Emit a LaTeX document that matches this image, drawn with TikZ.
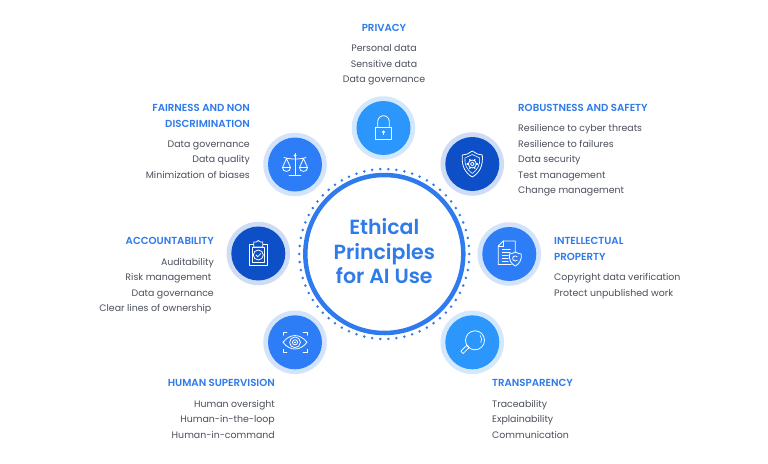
\documentclass[tikz,border=0pt]{standalone}
\usepackage{fontspec}
\setmainfont{Poppins}
\newfontfamily\semifont{Poppins SemiBold}
\definecolor{head}{HTML}{2F7BEA}
\definecolor{body}{HTML}{4A4F5C}
\definecolor{ringc}{HTML}{2F7BEE}
\definecolor{cA}{HTML}{2B96FB}
\definecolor{cB}{HTML}{0C4FC6}
\definecolor{cC}{HTML}{2D7DF6}
\definecolor{hA}{HTML}{D3E8FC}
\definecolor{hB}{HTML}{CEDCF5}
\definecolor{hC}{HTML}{D3E3FB}
\tikzset{
 x=1pt,y=-1pt,
 halo/.style={circle,minimum size=63.5pt,inner sep=0pt,line width=0pt,fill=#1},
 disc/.style={circle,minimum size=54pt,inner sep=0pt,line width=0pt,fill=#1},
 ttl/.style={font=\fontsize{10.2}{12}\semifont,text=head,inner sep=0pt,text height=7pt,text depth=2pt},
 itm/.style={font=\fontsize{9.4}{11}\selectfont,text=body,inner sep=0pt,text height=7pt,text depth=2pt},
 ico/.style={draw=white,line width=0.8pt,line join=round,line cap=round},
 centertext/.style={font=\fontsize{20.5}{24.5}\semifont,text=head,align=center,inner sep=0pt},
}
\begin{document}
\begin{tikzpicture}
\useasboundingbox (0,0) rectangle (768,463);
\fill[white] (0,0) rectangle (768,463);
% centre
\node[circle,draw=ringc,line width=4.5pt,minimum size=158pt,inner sep=0pt] (core) at (384.3,254) {};
\foreach \i in {0,...,65}{\fill[ringc] (384.3,254) ++({\i*5.4545}:85) circle (1.4);}
\node[centertext] (coretext) at (384.3,251.3) {Ethical\\Principles\\for AI Use};
% discs
\foreach \n/\x/\y/\h/\c in {pri/383.5/128/hA/cA,rob/472.3/164/hB/cB,fai/295/164.5/hC/cC,acc/258.3/253.5/hB/cB,ipr/509.3/254/hC/cC,tra/472.3/342.3/hA/cA,hum/295/342.3/hC/cC}{
 \node[halo=\h] (\n h) at (\x,\y) {};
 \node[disc=\c] (\n) at (\x,\y) {};
}
% lock
\begin{scope}[shift={(pri)}]
 \draw[ico] (-8.2,-1) rectangle (8.2,11);
 \draw[ico] (-5.8,-1) -- (-5.8,-6.5) arc (180:360:5.8) -- (5.8,-1);
 \fill[white] (0,4) circle (1.6); \fill[white] (-.6,4) rectangle (.6,7.2);
\end{scope}
% shield gear
\begin{scope}[shift={(rob)}]
 \draw[ico] (0,-13) -- (-5,-10) -- (-10,-9) .. controls (-11,2) and (-7,9) .. (0,13) .. controls (7,9) and (11,2) .. (10,-9) -- (5,-10) -- cycle;
 \draw[ico,line width=.6pt] (0,-9.5) -- (-7.4,-6) .. controls (-8,1) and (-5,6) .. (0,9.5) .. controls (5,6) and (8,1) .. (7.4,-6) -- cycle;
 \draw[ico] (0,0) circle (1.9);
 \draw[ico] (0,0) circle (4);
 \foreach \a in {0,60,...,300}{\draw[ico,line width=1.2pt] (\a:4) -- (\a:5.2);}
\end{scope}
% scales
\begin{scope}[shift={(fai)}]
 \draw[ico] (0,-11) -- (0,10);
 \draw[ico] (-6,10.5) -- (6,10.5);
 \draw[ico] (-11,-7) .. controls (-5,-5) and (5,-5) .. (11,-7);
 \fill[white] (0,-9) circle (1.5);
 \draw[ico] (-8.5,-6) -- (-12.5,3) -- (-4.5,3) -- cycle;
 \draw[ico] (8.5,-6) -- (12.5,3) -- (4.5,3) -- cycle;
 \draw[ico] (-12.5,3) arc (180:0:4);
 \draw[ico] (4.5,3) arc (180:0:4);
\end{scope}
% clipboard
\begin{scope}[shift={(acc)}]
 \draw[ico] (-9,-9) rectangle (9,12);
 \draw[ico,line width=.6pt] (-6,-6) rectangle (6,9);
 \draw[ico,fill=cB] (-4.5,-9) -- (-4.5,-11.5) -- (-2,-11.5) -- (0,-13) -- (2,-11.5) -- (4.5,-11.5) -- (4.5,-6.5) -- (-4.5,-6.5) -- cycle;
 \draw[ico] (0,1.5) circle (5);
 \draw[ico] (-2.3,1.5) -- (-.6,3.2) -- (2.4,.1);
\end{scope}
% document with shield
\begin{scope}[shift={(ipr)}]
 \draw[ico] (2,10.5) -- (-11,10.5) -- (-11,-8) -- (-6,-13) -- (6,-13) -- (6,-2);
 \draw[ico] (-11,-8) -- (-6,-8) -- (-6,-13);
 \foreach \y/\xe in {-5/1,-2/1,1/-1,4/-1,7/-1}{\draw[ico,line width=.7pt] (-7,\y) -- (\xe,\y);}
 \draw[ico] (6,-2) .. controls (8,-.5) and (10,-.5) .. (12,0) .. controls (12.5,6) and (10,10) .. (6,12) .. controls (2,10) and (-.5,6) .. (0,0) .. controls (2,-.5) and (4,-.5) .. (6,-2) -- cycle;
 \draw[ico] (7.9,2.8) arc (-40:-320:2.6);
\end{scope}
% magnifier
\begin{scope}[shift={(tra)}]
 \draw[ico] (2.7,-2) circle (9.5);
 \draw[ico,line width=.6pt] (7.8,-7) arc (-40:30:6.5);
 \draw[ico] (-4,4.8) -- (-5.2,3.5);
 \draw[ico] (-5.5,3) -- (-11.5,8.8) -- (-9.2,11.2) -- (-3.2,5.3) -- cycle;
\end{scope}
% eye
\begin{scope}[shift={(hum)}]
 \draw[ico] (-12,0) .. controls (-5,-9) and (5,-9) .. (12,0) .. controls (5,9) and (-5,9) .. (-12,0) -- cycle;
 \draw[ico] (0,0) circle (5.4);
 \draw[ico] (0,0) circle (2.6);
 \fill[white] (0,0) circle (1);
 \draw[ico] (-12,-7) -- (-12,-10) -- (-8,-10);
 \draw[ico] (12,-7) -- (12,-10) -- (8,-10);
 \draw[ico] (-12,7) -- (-12,10) -- (-8,10);
 \draw[ico] (12,7) -- (12,10) -- (8,10);
\end{scope}
% texts
\begin{scope}[yshift=-0.8pt]
\node[ttl] (t1) at (384,28.5) {PRIVACY};
\node[itm] (t1a) at (384,48.5) {Personal data};
\node[itm] (t1b) at (384,64) {Sensitive data};
\node[itm] (t1c) at (384,79.5) {Data governance};
\node[ttl,anchor=east] (t2) at (250,108.5) {FAIRNESS AND NON};
\node[ttl,anchor=east] (t2x) at (250,124) {DISCRIMINATION};
\node[itm,anchor=east] (t2a) at (250,144) {Data governance};
\node[itm,anchor=east] (t2b) at (250,159.5) {Data quality};
\node[itm,anchor=east] (t2c) at (250,175) {Minimization of biases};
\node[ttl,anchor=east] (t3) at (214,241.5) {ACCOUNTABILITY};
\node[itm,anchor=east] (t3a) at (214,262) {Auditability};
\node[itm,anchor=east] (t3b) at (211.5,277.5) {Risk management};
\node[itm,anchor=east] (t3c) at (214,293) {Data governance};
\node[itm,anchor=east] (t3d) at (211.5,308.5) {Clear lines of ownership};
\node[ttl,anchor=east] (t4) at (275,383.5) {HUMAN SUPERVISION};
\node[itm,anchor=east] (t4a) at (275,404) {Human oversight};
\node[itm,anchor=east] (t4b) at (275,419.5) {Human-in-the-loop};
\node[itm,anchor=east] (t4c) at (275,435) {Human-in-command};
\node[ttl,anchor=west] (t5) at (518,108.5) {ROBUSTNESS AND SAFETY};
\node[itm,anchor=west] (t5a) at (518,128.5) {Resilience to cyber threats};
\node[itm,anchor=west] (t5b) at (518,144) {Resilience to failures};
\node[itm,anchor=west] (t5c) at (518,159.5) {Data security};
\node[itm,anchor=west] (t5d) at (518,175) {Test management};
\node[itm,anchor=west] (t5e) at (518,190.5) {Change management};
\node[ttl,anchor=west] (t6) at (554,241.5) {INTELLECTUAL};
\node[ttl,anchor=west] (t6x) at (554,257) {PROPERTY};
\node[itm,anchor=west] (t6a) at (554,277.5) {Copyright data verification};
\node[itm,anchor=west] (t6b) at (554,293) {Protect unpublished work};
\node[ttl,anchor=west] (t7) at (492,383.5) {TRANSPARENCY};
\node[itm,anchor=west] (t7a) at (492,404) {Traceability};
\node[itm,anchor=west] (t7b) at (492,419.5) {Explainability};
\node[itm,anchor=west] (t7c) at (492,435) {Communication};
\end{scope}
\end{tikzpicture}
\end{document}
